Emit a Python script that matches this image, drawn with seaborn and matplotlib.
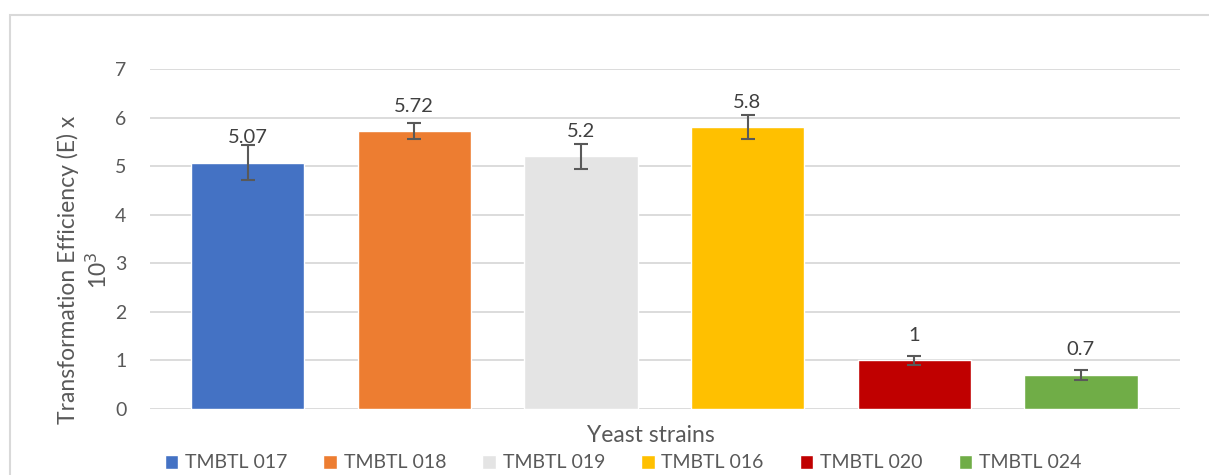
import matplotlib
matplotlib.use('Agg')
import matplotlib.pyplot as plt
import seaborn as sns
import pandas as pd
from matplotlib.patches import Rectangle

# data
strains = ['TMBTL 017', 'TMBTL 018', 'TMBTL 019', 'TMBTL 016', 'TMBTL 020', 'TMBTL 024']
efficiency = [5.07, 5.72, 5.2, 5.8, 1, 0.7]
errors = [0.36, 0.16, 0.25, 0.25, 0.1, 0.1]
value_labels = ['5.07', '5.72', '5.2', '5.8', '1', '0.7']
colors = ['#4472C4', '#ED7D31', '#E4E4E4', '#FFC000', '#C00000', '#70AD47']

df = pd.DataFrame({'strain': strains, 'eff': efficiency})

sns.set_style('white')
plt.rcParams['font.family'] = ['Lato', 'DejaVu Sans']

fig = plt.figure(figsize=(12.09, 4.75), dpi=100)
ax = fig.add_axes([150/1209, 1-409/475, 1030/1209, 340/475])

sns.barplot(data=df, x='strain', y='eff', hue='strain', palette=colors,
            width=0.68, dodge=False, legend=True, ax=ax, saturation=1)

ax.errorbar(range(len(strains)), efficiency, yerr=errors, fmt='none',
            ecolor='#595959', elinewidth=1.5, capsize=5, capthick=1.5, zorder=5)

for i, (v, lab) in enumerate(zip(efficiency, value_labels)):
    ax.annotate(lab, (i, v), xytext=(0, 12), textcoords='offset points',
                ha='center', va='bottom', fontsize=14.5, color='#404040')

ax.set_ylim(0, 7)
ax.set_xlim(-0.585, 5.595)
ax.set_yticks(range(8))
ax.yaxis.grid(True, color='#D9D9D9', linewidth=1.3)
ax.set_axisbelow(True)
ax.tick_params(axis='y', length=0, pad=17, labelsize=14, labelcolor='#595959')
ax.set_xticks([])
ax.set_xlabel('')
ax.set_ylabel('')
for s in ax.spines.values():
    s.set_visible(False)

fig.text(84/1209, 1-270/475, 'Transformation Efficiency (E) x\n10$^3$', rotation=90,
         ha='center', va='center', multialignment='center', fontsize=16.5,
         color='#595959', linespacing=1.35)
fig.text(651/1209, 1-436/475, 'Yeast strains', ha='center', va='center',
         fontsize=16.5, color='#595959')

handles, labels = ax.get_legend_handles_labels()
ax.get_legend().remove()
fig.legend(handles, labels, loc='center', bbox_to_anchor=(623/1209, 1-463/475),
           ncol=6, frameon=False, fontsize=14, handlelength=0.7, handleheight=0.7,
           handletextpad=0.35, columnspacing=1.85, labelcolor='#595959')

fig.patches.append(Rectangle((10/1209, -0.1), 1.2, 1.1 - 15/475, transform=fig.transFigure,
                             fill=False, edgecolor='#D9D9D9', linewidth=1.5))

fig.savefig('out.png', dpi=100)
